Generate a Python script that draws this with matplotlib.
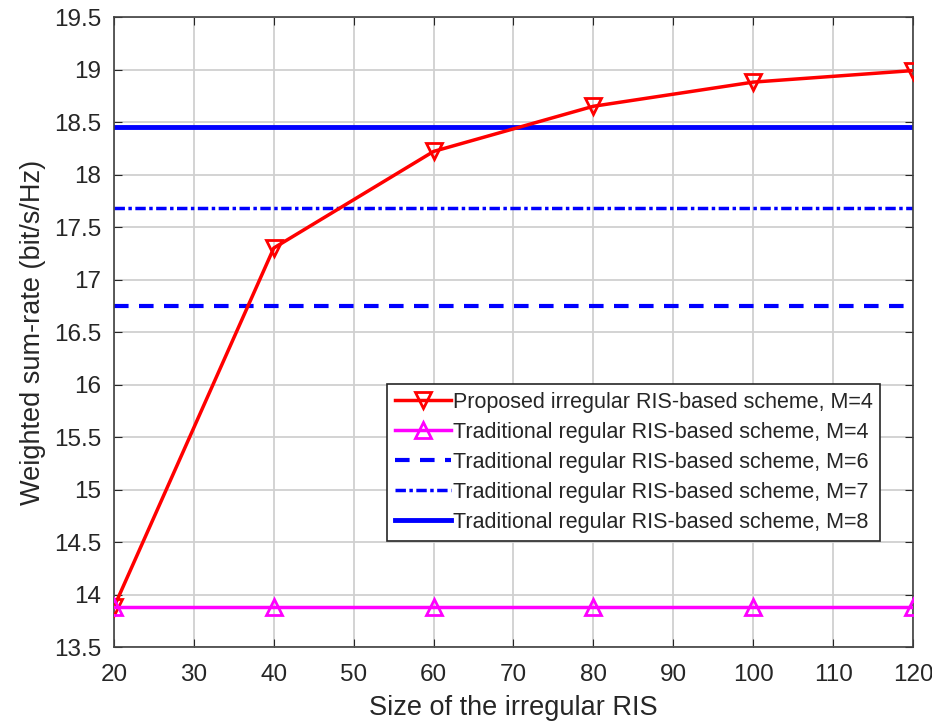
import matplotlib.pyplot as plt

plt.rcParams['font.family'] = ['Liberation Sans', 'DejaVu Sans']

# data
ris_size = [20, 40, 60, 80, 100, 120]
proposed_m4 = [13.88, 17.30, 18.22, 18.65, 18.88, 18.99]
regular_m4 = [13.88, 13.88, 13.88, 13.88, 13.88, 13.88]
regular_m6 = 16.75
regular_m7 = 17.68
regular_m8 = 18.45

labels = ["Proposed irregular RIS-based scheme, M=4",
          "Traditional regular RIS-based scheme, M=4",
          "Traditional regular RIS-based scheme, M=6",
          "Traditional regular RIS-based scheme, M=7",
          "Traditional regular RIS-based scheme, M=8"]

fig = plt.figure(figsize=(9.32, 7.27), dpi=100)
ax = fig.add_axes([0.1223, 0.110, 0.8573, 0.8666])

ax.plot(ris_size, proposed_m4, color='red', lw=2.5, marker='v', ms=11,
        mfc='none', mew=2, label=labels[0], zorder=4)
ax.plot(ris_size, regular_m4, color='magenta', lw=2.5, marker='^', ms=11,
        mfc='none', mew=2, label=labels[1], zorder=4)
ax.plot([ris_size[0], ris_size[-1]], [regular_m6] * 2, color='blue', lw=3,
        ls=(0, (3.5, 2.5)), label=labels[2])
ax.plot([ris_size[0], ris_size[-1]], [regular_m7] * 2, color='blue', lw=2.5,
        ls=(0, (3, 1, 1, 1)), label=labels[3])
ax.plot([ris_size[0], ris_size[-1]], [regular_m8] * 2, color='blue', lw=3.5,
        label=labels[4])

ax.set_xlim(20, 120)
ax.set_ylim(13.5, 19.5)
ax.set_xticks(range(20, 121, 10))
ax.set_yticks([13.5 + 0.5 * i for i in range(13)])
ax.set_yticklabels(['13.5', '14', '14.5', '15', '15.5', '16', '16.5', '17',
                    '17.5', '18', '18.5', '19', '19.5'])
ax.grid(True, color='#d0d0d0', lw=1.3)
ax.set_axisbelow(True)
ax.tick_params(direction='in', labelsize=17.5, colors='#262626', length=6,
               top=True, right=True)
ax.tick_params(axis='x', pad=12)
ax.tick_params(axis='y', pad=9)
for s in ax.spines.values():
    s.set_color('#404040')
    s.set_linewidth(1.2)

ax.set_xlabel("Size of the irregular RIS", fontsize=19.5, color='#262626',
              labelpad=7)
ax.set_ylabel("Weighted sum-rate (bit/s/Hz)", fontsize=19.5, color='#262626',
              labelpad=6)

leg = ax.legend(loc='upper right', bbox_to_anchor=(0.959, 0.417), fontsize=15.5,
                handlelength=2.6, handletextpad=0.1, borderpad=0.35,
                labelspacing=0.42, fancybox=False, framealpha=1,
                edgecolor='#262626', borderaxespad=0)
leg.get_frame().set_linewidth(1.2)
for t in leg.get_texts():
    t.set_color('#262626')

plt.savefig("out.png", dpi=100)
